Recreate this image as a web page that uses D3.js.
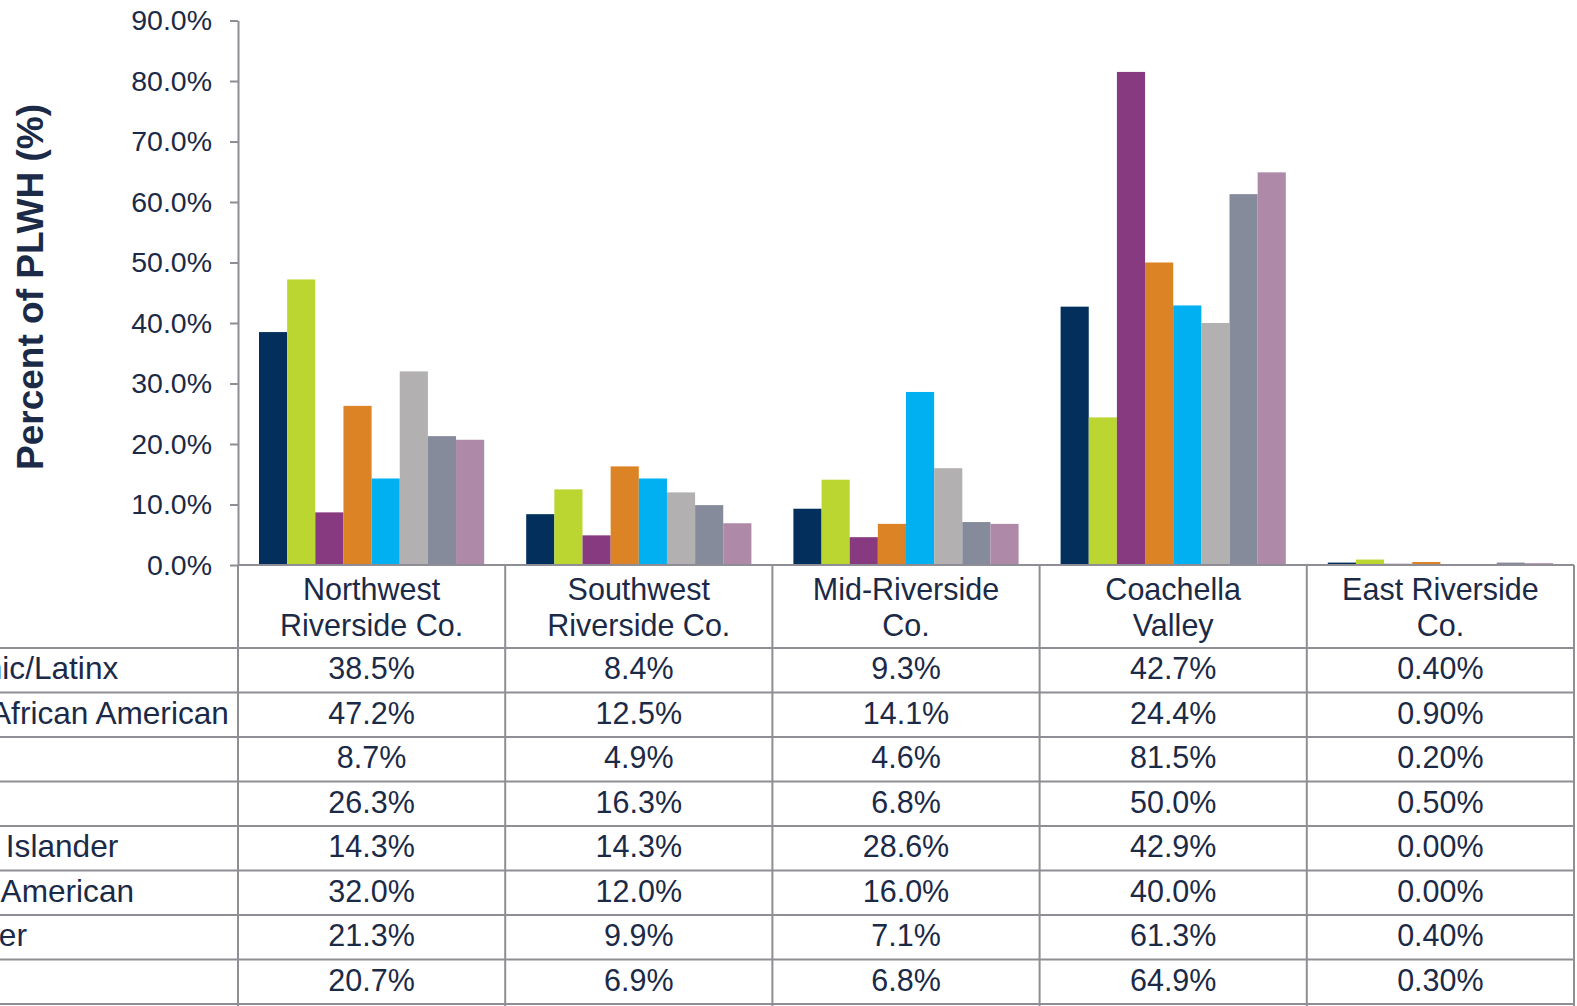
<!DOCTYPE html>
<meta charset="utf-8">
<style>
body { margin: 0; padding: 0; background: #fff; }
text { font-family: "Liberation Sans", Arial, sans-serif; fill: #1b2a47; }
</style>
<svg width="1577" height="1006"></svg>
<script src="https://d3js.org/d3.v7.min.js"></script>
<script>

// regions (columns) and how the header splits them
var regions = ["Northwest Riverside Co.", "Southwest Riverside Co.", "Mid-Riverside Co.", "Coachella Valley", "East Riverside Co."];
var regionLines = [["Northwest", "Riverside Co."], ["Southwest", "Riverside Co."], ["Mid-Riverside", "Co."], ["Coachella", "Valley"], ["East Riverside", "Co."]];
var decimals = [1, 1, 1, 1, 2];

// groups (rows / series)
var groups = ["Hispanic/Latinx", "Black/African American", "White", "Asian", "Pacific Islander", "Native American", "All Other", "Total"];
var colors = ["#022f5c", "#bcd631", "#873a7f", "#dc8425", "#00b0f0", "#b2b0b1", "#868b9c", "#ae8aa8"];

// percent of PLWH, one array per group, in region order
var hispanic = [38.5, 8.4, 9.3, 42.7, 0.40];
var black    = [47.2, 12.5, 14.1, 24.4, 0.90];
var white    = [8.7, 4.9, 4.6, 81.5, 0.20];
var asian    = [26.3, 16.3, 6.8, 50.0, 0.50];
var pacific  = [14.3, 14.3, 28.6, 42.9, 0.00];
var native   = [32.0, 12.0, 16.0, 40.0, 0.00];
var other    = [21.3, 9.9, 7.1, 61.3, 0.40];
var total    = [20.7, 6.9, 6.8, 64.9, 0.30];
var series = [hispanic, black, white, asian, pacific, native, other, total];

var yTicks = [0, 10, 20, 30, 40, 50, 60, 70, 80, 90];

var svg = d3.select("svg"),
    plotLeft = 238, plotRight = 1574,
    plotTop = 20.5, plotBottom = 565,
    headerBottom = 648, tableBottom = 1004,
    lineColor = "#8e8e94";

var x0 = d3.scaleBand().domain(regions).range([plotLeft, plotRight]);
var x1 = d3.scaleBand().domain(groups).range([21, x0.bandwidth() - 21]);
var y = d3.scaleLinear().domain([0, 90]).range([plotBottom, plotTop]);
var color = d3.scaleOrdinal().domain(groups).range(colors);
var rowY = d3.scaleBand().domain(groups).range([headerBottom, tableBottom]);

// bars
var bars = [];
groups.forEach(function(gname, i) {
  regions.forEach(function(r, j) {
    bars.push({group: gname, region: r, value: series[i][j]});
  });
});

svg.append("g")
  .selectAll("rect")
  .data(bars)
  .enter().append("rect")
    .attr("x", function(d) { return x0(d.region) + x1(d.group); })
    .attr("y", function(d) { return y(d.value); })
    .attr("width", x1.bandwidth())
    .attr("height", function(d) { return plotBottom - y(d.value); })
    .attr("fill", function(d) { return color(d.group); });

// y axis
var yAxis = svg.append("g")
    .attr("transform", "translate(" + plotLeft + ",0)")
    .call(d3.axisLeft(y)
      .tickValues(yTicks)
      .tickFormat(function(d) { return d.toFixed(1) + "%"; })
      .tickSize(8)
      .tickSizeOuter(0)
      .tickPadding(18));
yAxis.select(".domain").attr("stroke", lineColor).attr("stroke-width", 2);
yAxis.selectAll(".tick line").attr("stroke", lineColor).attr("stroke-width", 2);
yAxis.selectAll(".tick text")
    .attr("fill", "#1b2a47")
    .style("font-size", "28.5px")
    .style("font-family", "'Liberation Sans', Arial, sans-serif");

svg.append("text")
    .attr("transform", "translate(30,287) rotate(-90)")
    .attr("text-anchor", "middle")
    .attr("dominant-baseline", "central")
    .style("font-size", "37px")
    .style("font-weight", "bold")
    .text("Percent of PLWH (%)");

// table lines
var grid = svg.append("g").attr("stroke", lineColor).attr("stroke-width", 2);

grid.append("line")
    .attr("x1", plotLeft).attr("x2", plotRight)
    .attr("y1", plotBottom).attr("y2", plotBottom);

grid.selectAll(".hrow")
  .data(groups.map(function(g) { return rowY(g); }).concat([tableBottom]))
  .enter().append("line")
    .attr("x1", 0).attr("x2", plotRight)
    .attr("y1", function(d) { return d; })
    .attr("y2", function(d) { return d; });

grid.selectAll(".vcol")
  .data(regions.map(function(r) { return x0(r); }).concat([plotRight]))
  .enter().append("line")
    .attr("x1", function(d) { return d; })
    .attr("x2", function(d) { return d; })
    .attr("y1", plotBottom).attr("y2", 1006);

// header
var header = svg.append("g")
  .selectAll("text")
  .data(regions)
  .enter().append("text")
    .attr("text-anchor", "middle")
    .style("font-size", "30.5px");

header.selectAll("tspan")
  .data(function(d, i) { return regionLines[i].map(function(l) { return {line: l, x: x0(d) + x0.bandwidth() / 2}; }); })
  .enter().append("tspan")
    .attr("x", function(d) { return d.x; })
    .attr("y", function(d, k) { return 600 + k * 36; })
    .text(function(d) { return d.line; });

// row labels (the left part is cut off by the page edge, as in the source)
svg.append("g")
  .selectAll("text")
  .data(groups)
  .enter().append("text")
    .attr("x", -96)
    .attr("y", function(d) { return rowY(d) + 31; })
    .style("font-size", "31.6px")
    .text(function(d) { return d; });

// cell values
var cells = [];
groups.forEach(function(gname, i) {
  regions.forEach(function(r, j) {
    cells.push({group: gname, region: r, text: series[i][j].toFixed(decimals[j]) + "%"});
  });
});

svg.append("g")
  .selectAll("text")
  .data(cells)
  .enter().append("text")
    .attr("x", function(d) { return x0(d.region) + x0.bandwidth() / 2; })
    .attr("y", function(d) { return rowY(d.group) + 31; })
    .attr("text-anchor", "middle")
    .style("font-size", "30.5px")
    .text(function(d) { return d.text; });

</script>
